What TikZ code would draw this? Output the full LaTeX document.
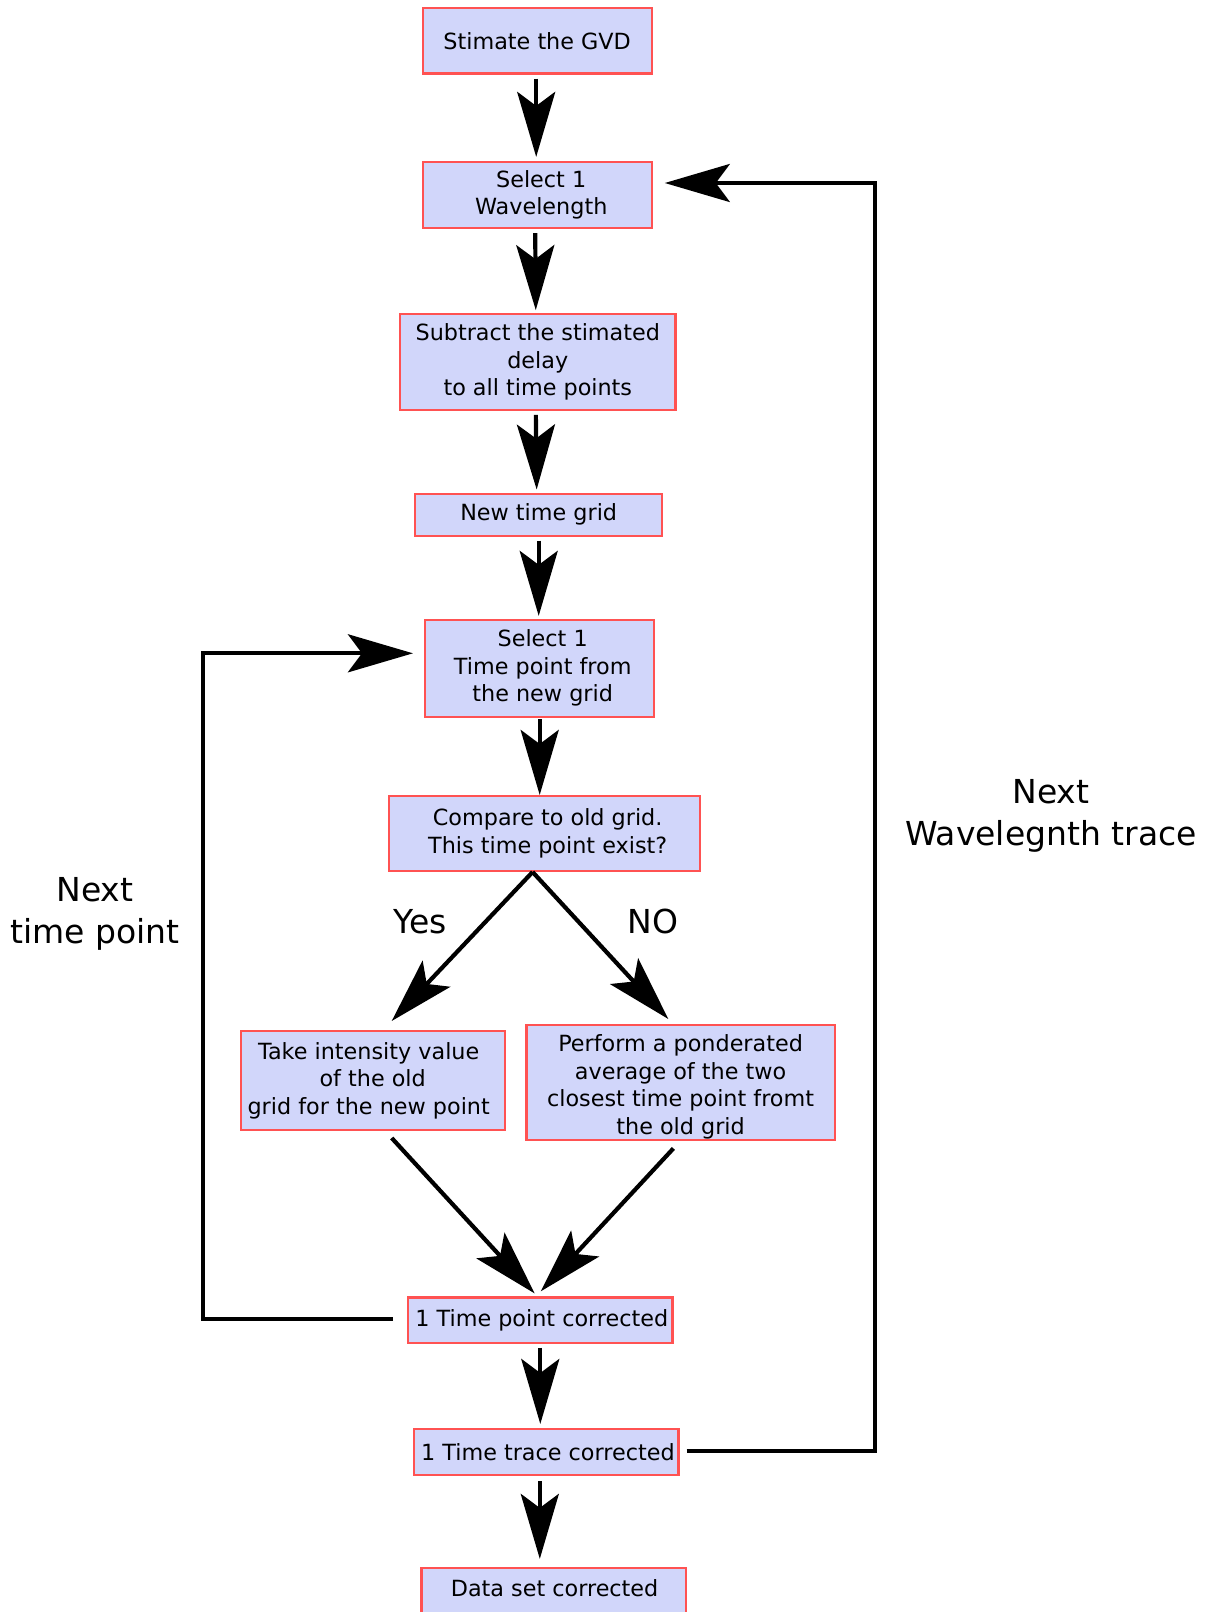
\documentclass[tikz,border=0pt]{standalone}
\usepackage{fontspec}
\setmainfont{DejaVu Sans}
\usetikzlibrary{arrows.meta}
\definecolor{boxfill}{RGB}{209,214,250}
\definecolor{boxred}{RGB}{255,82,82}
\newcommand\boxfont{\fontsize{22.3}{27.5}\selectfont}
\newcommand\labfont{\fontsize{33}{42}\selectfont}
\begin{document}
\begin{tikzpicture}[x=1pt,y=-1pt,
  box/.style={draw=boxred, fill=boxfill, line width=2.2pt, inner sep=0pt, align=center, font=\boxfont},
  lab/.style={inner sep=0pt, align=center, font=\labfont},
  arr/.style={line width=4.2pt, -{Stealth[length=65pt,width=38pt,inset=14pt]}},
  loopline/.style={line width=4.2pt, -{Stealth[length=65pt,width=38pt,inset=14pt]}}]
\useasboundingbox (0,0) rectangle (1206,1612);
\fill[white] (0,0) rectangle (1206,1612);

\node[box, minimum width=229pt, minimum height=65.5pt] (gvd) at (537.2,40.8) {Stimate the GVD};
\node[box, minimum width=229pt, minimum height=66pt] (sel) at (537.2,195) {\hspace*{8pt}Select 1\\\hspace*{8pt}Wavelength};
\node[box, minimum width=275.5pt, minimum height=95.6pt] (sub) at (537.8,362) {Subtract the stimated\\delay\\to all time points};
\node[box, minimum width=246.7pt, minimum height=42pt] (ngrid) at (538.7,514.6) {New time grid};
\node[box, minimum width=229.3pt, minimum height=96.7pt] (seltp) at (539.7,668.3) {\hspace*{6pt}Select 1\\\hspace*{6pt}Time point from\\\hspace*{6pt}the new grid};
\node[box, minimum width=310.7pt, minimum height=74.7pt] (cmp) at (544.7,833.4) {\hspace*{6pt}Compare to old grid.\\\hspace*{6pt}This time point exist?};
\node[box, minimum width=264.2pt, minimum height=98.7pt] (take) at (372.7,1080.5) {Take intensity value\hspace*{8pt}\\of the old\hspace*{8pt}\\grid for the new point\hspace*{8pt}};
\node[box, minimum width=308.4pt, minimum height=115.2pt,
  label={[inner sep=0pt, align=center, font=\boxfont, yshift=-4pt]center:{Perform a ponderated\\average of the two\\closest time point fromt\\the old grid}}] (perf) at (680.6,1082.6) {};
\node[box, minimum width=264.2pt, minimum height=45.2pt] (tpc) at (540.3,1320.1) {\hspace*{3pt}1 Time point corrected};
\node[box, minimum width=264.2pt, minimum height=46.3pt] (ttc) at (546.4,1452.2) {\hspace*{3pt}1 Time trace corrected};
\node[box, minimum width=264.2pt, minimum height=48pt, text depth=0pt] (dsc) at (553.6,1592) {\raisebox{8pt}{\hspace*{2pt}Data set corrected}};

% vertical arrows
\draw[arr, shorten <=4pt, shorten >=4pt] ([xshift=-1pt]gvd.south) -- ([xshift=-1pt]sel.north);
\draw[arr, shorten <=4pt, shorten >=3pt] ([xshift=-2pt]sel.south) -- ([xshift=-2pt]sub.north);
\draw[arr, shorten <=4pt, shorten >=3pt] ([xshift=-2pt]sub.south) -- ([xshift=-2pt]ngrid.north);
\draw[arr, shorten <=4pt, shorten >=3pt] (ngrid.south) -- (ngrid.south |- seltp.north);
\draw[arr, shorten <=1.5pt] (seltp.south) -- (seltp.south |- cmp.north);
\draw[arr, shorten <=4pt, shorten >=4pt] (tpc.south) -- (tpc.south |- ttc.north);
\draw[arr, shorten <=5pt, shorten >=8pt] ([xshift=-6.6pt]ttc.south) -- ([xshift=-6.6pt]ttc.south |- dsc.north);

% branch
\coordinate (split) at (532.6,872);
\coordinate (yestip) at (391.7,1021);
\coordinate (notip) at (668.3,1019);
\draw[arr] (split) -- (yestip);
\draw[arr] (split) -- (notip);
\node[lab, anchor=base] (yes) at (420,933.3) {Yes};
\node[lab, anchor=base] (no) at (653.3,933.3) {NO};

% merge
\coordinate (ms1) at (391.7,1138);
\coordinate (mt1) at (534.6,1293.4);
\coordinate (ms2) at (673.4,1148.4);
\coordinate (mt2) at (540.8,1291.3);
\draw[arr] (ms1) -- (mt1);
\draw[arr] (ms2) -- (mt2);

% loops
\draw[loopline] ([xshift=-14pt,yshift=1pt]tpc.west) -| (203,653.3) -- ([xshift=-11pt,yshift=15pt]seltp.west);
\draw[loopline] ([xshift=7pt,yshift=1.5pt]ttc.east) -| (875,183) -- ([xshift=12pt,yshift=12pt]sel.east);

\node[lab] (ntp) at (95,913.7) {Next\\time point};
\node[lab] (nwt) at (1051,815.7) {Next\\Wavelegnth trace};
\end{tikzpicture}
\end{document}
